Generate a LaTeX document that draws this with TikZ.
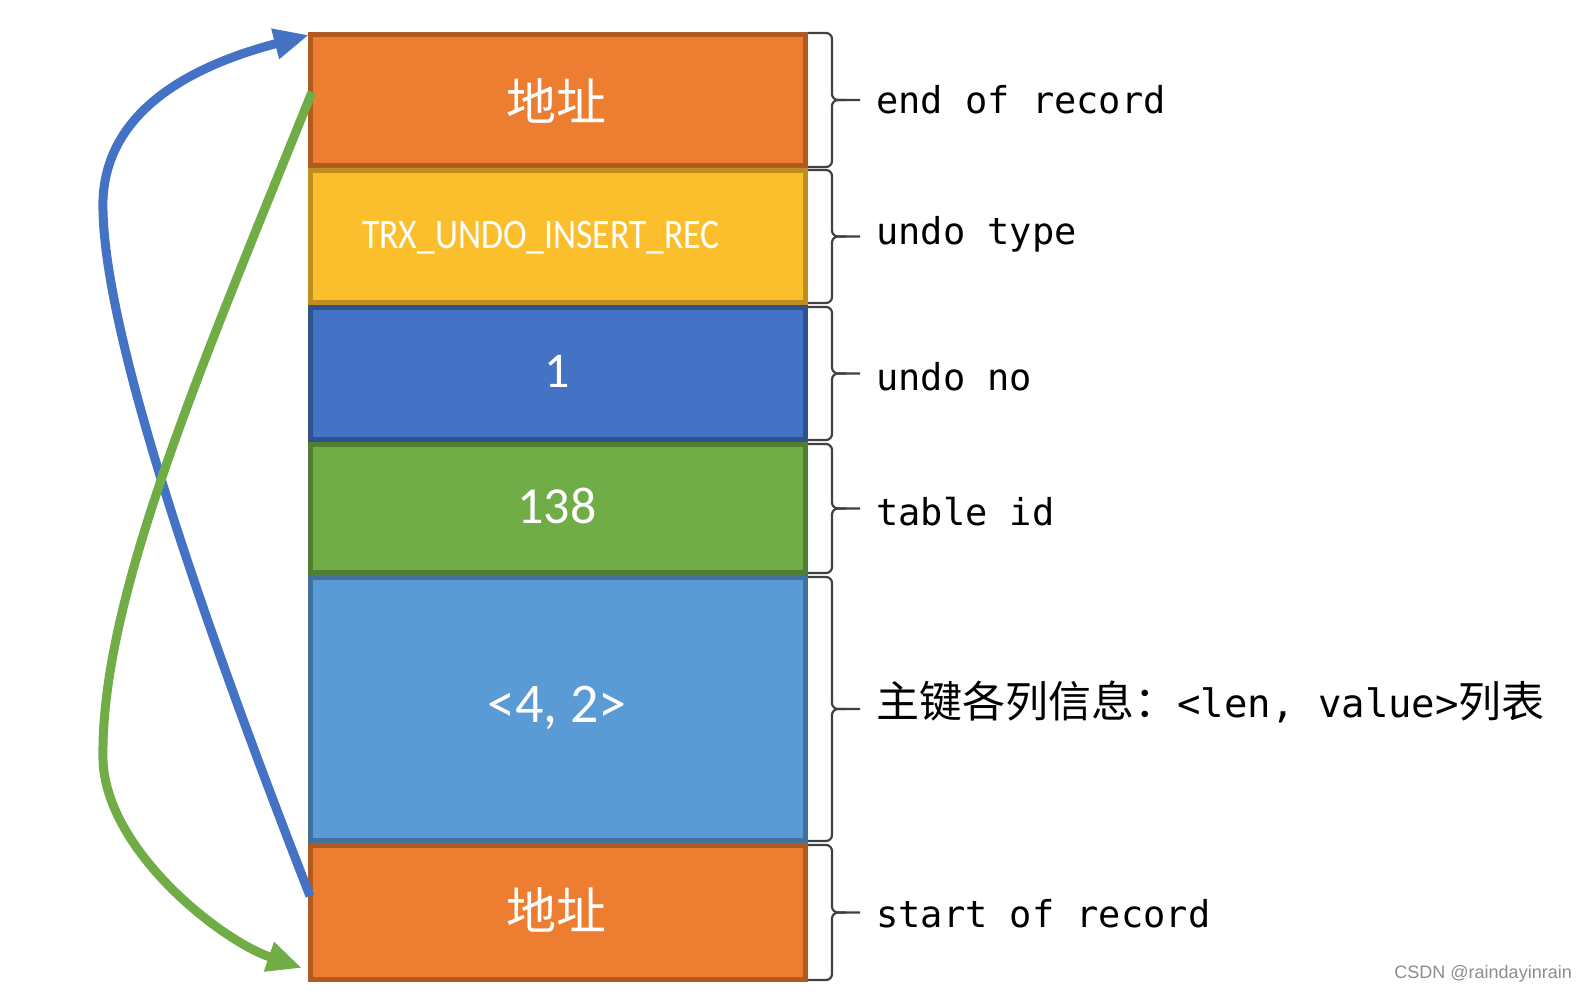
\documentclass[tikz,border=0pt]{standalone}
\usepackage{fontspec}
\usetikzlibrary{arrows.meta}
\newfontfamily\cjk{Noto Sans CJK SC}
\newfontfamily\mono{DejaVu Sans Mono}
\newfontfamily\carl{Carlito}
\newfontfamily\carlN[FakeStretch=0.85]{Carlito}
\newfontfamily\wmfont{Liberation Sans}
\definecolor{orangeF}{HTML}{ED7D31}
\definecolor{orangeD}{HTML}{B05A22}
\definecolor{yellowF}{HTML}{FBBF2D}
\definecolor{yellowD}{HTML}{BF8E1E}
\definecolor{blueF}{HTML}{4472C4}
\definecolor{blueD}{HTML}{2F528F}
\definecolor{greenF}{HTML}{70AD47}
\definecolor{greenD}{HTML}{507E32}
\definecolor{lblueF}{HTML}{5B9BD5}
\definecolor{lblueD}{HTML}{41719C}
\definecolor{braceC}{HTML}{404040}
\newcommand\recbrace[2]{%
  \draw[bracestyle] (808,#1) -- (832,#1) -- (832,{(#1+#2)/2}) -- (860,{(#1+#2)/2});
  \draw[bracestyle] (808,#2) -- (832,#2) -- (832,{(#1+#2)/2}) -- (846,{(#1+#2)/2});
}
\begin{document}
\begin{tikzpicture}[x=1pt,y=-1pt,
  recbox/.style={line width=5pt, minimum width=495pt, inner sep=0pt, outer sep=0pt, text=white},
  bracestyle/.style={line width=2.2pt, draw=braceC, rounded corners=6pt},
  lbl/.style={anchor=west, inner sep=0pt, font=\mono\fontsize{37}{37}\selectfont},
  arr/.style={line width=9pt, -{Triangle[length=35pt,width=29pt]}}]
\useasboundingbox (0,0) rectangle (1586,993);
% boxes
\node[recbox, fill=orangeF, draw=orangeD, minimum height=131pt] (o1) at (558,100) {};
\node[recbox, fill=yellowF, draw=yellowD, minimum height=132pt] (y) at (558,236.5) {};
\node[recbox, fill=blueF, draw=blueD, minimum height=132pt] (b) at (558,373.5) {};
\node[recbox, fill=greenF, draw=greenD, minimum height=128pt] (g) at (558,508.5) {};
\node[recbox, fill=lblueF, draw=lblueD, minimum height=263pt] (lb) at (558,709) {};
\node[recbox, fill=orangeF, draw=orangeD, minimum height=134pt] (o2) at (558,912.5) {};
% box texts
\node[text=white, font=\cjk\fontsize{50}{50}\selectfont] (t1) at (556,101) {地址};
\node[text=white, font=\carlN\fontsize{42}{42}\selectfont] (t2) at (541,238) {TRX\_UNDO\_INSERT\_REC};
\node[text=white, font=\carl\fontsize{50}{50}\selectfont] (t3) at (557,371) {1};
\node[text=white, font=\carl\fontsize{52}{52}\selectfont] (t4) at (557,506) {138};
\node[text=white, font=\carl\fontsize{56}{56}\selectfont] (t5) at (557,708) {<4, 2>};
\node[text=white, font=\cjk\fontsize{50}{50}\selectfont] (t6) at (556,910) {地址};
% braces
\recbrace{33}{167}
\recbrace{170}{303}
\recbrace{307}{440}
\recbrace{444}{573}
\recbrace{577}{841}
\recbrace{845}{980}
% labels
\node[lbl] (l1) at (876,100) {end of record};
\node[lbl] (l2) at (876,234) {undo type};
\node[lbl] (l3) at (876,377) {undo no};
\node[lbl] (l4) at (876,512) {table id};
\node[lbl, font=\mono\fontsize{39}{39}\selectfont] (l5) at (876,702) {{\cjk\fontsize{43}{43}\selectfont 主键各列信息：}<len, value>{\cjk\fontsize{43}{43}\selectfont 列表}};
\node[lbl] (l6) at (876,914) {start of record};
% arrows
\coordinate (bs) at (310,896);
\coordinate (bm) at (103,200);
\coordinate (be) at (309,35);
\draw[arr, draw=blueF] (bs) .. controls (210,640) and (100,330) .. (bm) .. controls (106,120) and (175,70) .. (be);
\coordinate (gs) at (312,92);
\coordinate (gm) at (103,760);
\coordinate (ge) at (302,968);
\draw[arr, draw=greenF] (gs) .. controls (200,370) and (100,600) .. (gm) .. controls (106,850) and (220,940) .. (ge);
% watermark
\node[anchor=east, inner sep=0pt, text=black!45, font=\wmfont\fontsize{18}{18}\selectfont] (wm) at (1572,974) {CSDN @raindayinrain};
\end{tikzpicture}
\end{document}
